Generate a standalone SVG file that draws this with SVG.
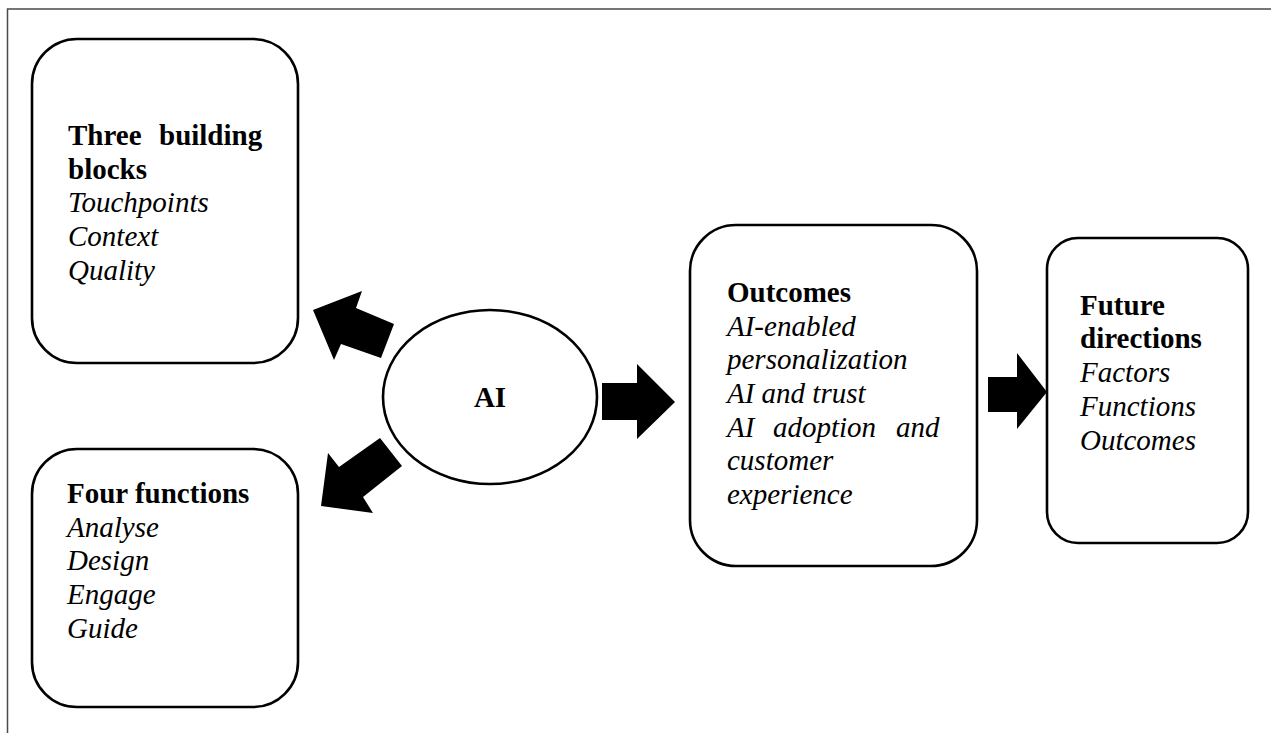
<svg xmlns="http://www.w3.org/2000/svg" width="1271" height="733" viewBox="0 0 1271 733">
<style>
  .box { fill: #fff; stroke: #000; stroke-width: 2.6; }
  .frame { fill: none; stroke: #4a4a4a; stroke-width: 1.5; }
  .arrow { fill: #000; stroke: none; }
  text { font-family: "Liberation Serif", "Times New Roman", serif; font-size: 29px; fill: #000; }
  .b { font-weight: bold; }
  .i { font-style: italic; }
</style>
<rect width="1271" height="733" fill="#fff"/>
<path class="frame" d="M7.5 733 V9 H1271"/>

<g id="node-building-blocks">
  <rect class="box" x="32" y="39" width="266" height="324" rx="45" ry="45"/>
  <text class="b" x="68" y="145">Three</text>
  <text class="b" x="159" y="145">building</text>
  <text class="b" x="68" y="179">blocks</text>
  <text class="i" x="68" y="212">Touchpoints</text>
  <text class="i" x="68" y="246">Context</text>
  <text class="i" x="68" y="280">Quality</text>
</g>

<g id="node-four-functions">
  <rect class="box" x="32" y="449" width="266" height="258" rx="45" ry="45"/>
  <text class="b" x="67" y="503">Four functions</text>
  <text class="i" x="67" y="537">Analyse</text>
  <text class="i" x="67" y="570">Design</text>
  <text class="i" x="67" y="604">Engage</text>
  <text class="i" x="67" y="638">Guide</text>
</g>

<g id="node-ai">
  <ellipse class="box" cx="490" cy="397" rx="107" ry="87"/>
  <text class="b" x="490" y="407" text-anchor="middle">AI</text>
</g>

<g id="node-outcomes">
  <rect class="box" x="690" y="225" width="287" height="341" rx="46" ry="46"/>
  <text class="b" x="727" y="302">Outcomes</text>
  <text class="i" x="727" y="336">AI-enabled</text>
  <text class="i" x="727" y="369">personalization</text>
  <text class="i" x="727" y="403">AI and trust</text>
  <text class="i" x="727" y="437">AI</text>
  <text class="i" x="773" y="437">adoption</text>
  <text class="i" x="896" y="437">and</text>
  <text class="i" x="727" y="470">customer</text>
  <text class="i" x="727" y="504">experience</text>
</g>

<g id="node-future-directions">
  <rect class="box" x="1047" y="238" width="201" height="305" rx="31" ry="31"/>
  <text class="b" x="1080" y="315">Future</text>
  <text class="b" x="1080" y="348">directions</text>
  <text class="i" x="1080" y="382">Factors</text>
  <text class="i" x="1080" y="416">Functions</text>
  <text class="i" x="1080" y="450">Outcomes</text>
</g>

<g id="connectors">
  <polygon class="arrow" points="313,310 362,291 356,308 394,324 381,358 341,344 334,360"/>
  <polygon class="arrow" points="321,506 328,453 339,467 380,438 402,466 363,497 373,513"/>
  <polygon class="arrow" points="602,383 637,383 637,364 675,402 637,439 637,420 602,420"/>
  <polygon class="arrow" points="988,377 1017,377 1017,353 1047,392 1017,429 1017,412 988,412"/>
</g>
</svg>
